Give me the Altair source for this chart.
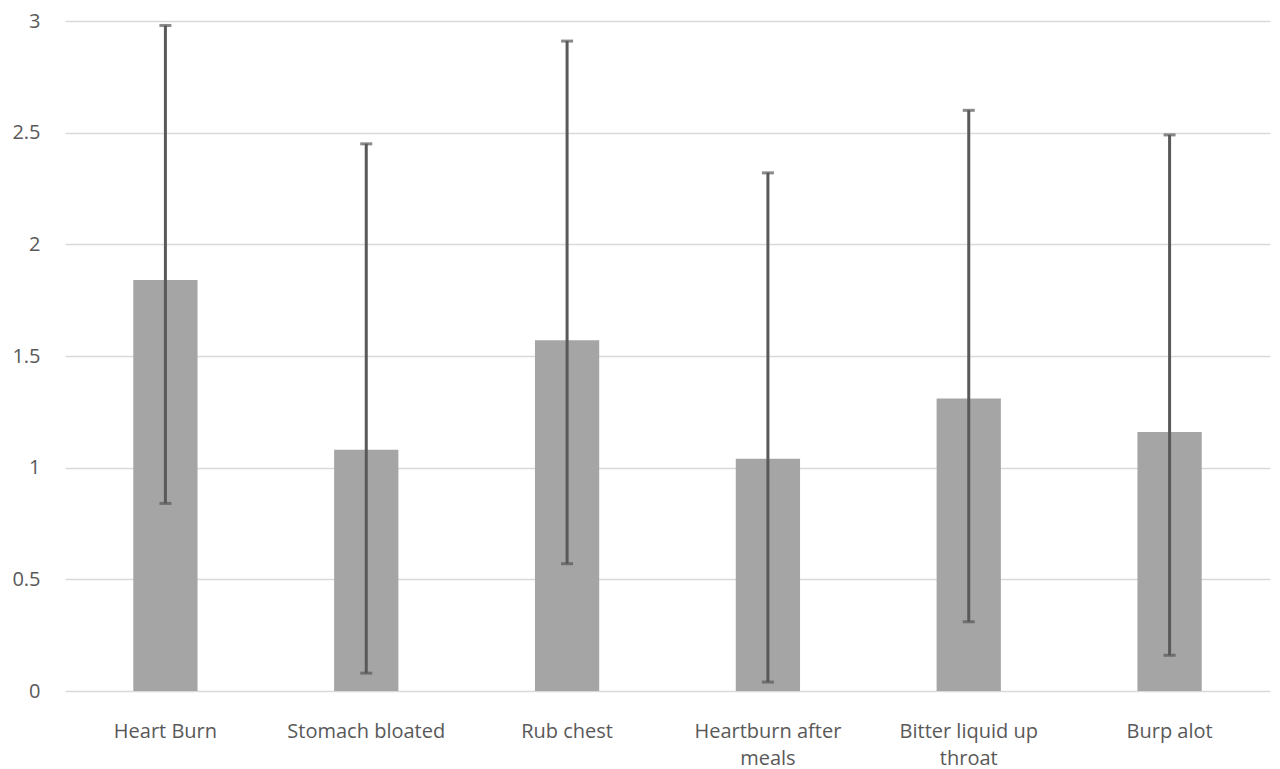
import altair as alt
import pandas as pd

categories = ["Heart Burn", "Stomach bloated", "Rub chest",
              "Heartburn after meals", "Bitter liquid up throat", "Burp alot"]
means = [1.84, 1.08, 1.57, 1.04, 1.31, 1.16]
err_low = [0.84, 0.08, 0.57, 0.04, 0.31, 0.16]
err_high = [2.98, 2.45, 2.91, 2.32, 2.60, 2.49]

df = pd.DataFrame({"cat": categories, "mean": means, "lo": err_low, "hi": err_high})

FONT = "Open Sans"
TXT = "#595959"
FS = 20

label_expr = ("datum.label == 'Heartburn after meals' ? ['Heartburn after', 'meals'] : "
              "datum.label == 'Bitter liquid up throat' ? ['Bitter liquid up', 'throat'] : datum.label")

x = alt.X("cat:N", sort=categories, title=None,
          scale=alt.Scale(paddingInner=0.68, paddingOuter=0.34),
          axis=alt.Axis(labelAngle=0, labelExpr=label_expr, labelFont=FONT, labelFontSize=FS,
                        labelColor=TXT, labelPadding=30, labelLineHeight=27,
                        ticks=False, domain=False, labelLimit=300))
y = alt.Y("mean:Q", title=None,
          scale=alt.Scale(domain=[0, 3], nice=False),
          axis=alt.Axis(values=[0, 0.5, 1, 1.5, 2, 2.5, 3], format="~g", labelFont=FONT,
                        labelFontSize=FS, labelColor=TXT, labelPadding=25, ticks=False,
                        domain=False, gridColor="#d9d9d9", gridWidth=1.3))

base = alt.Chart(df)
bars = base.mark_bar(color="#a5a5a5").encode(x=x, y=y)
rules = base.mark_rule(color="#595959", strokeWidth=3).encode(
    x=alt.X("cat:N", sort=categories), y="lo:Q", y2="hi:Q")
cap_lo = base.mark_tick(color="#595959", thickness=3, size=12, orient="horizontal").encode(
    x=alt.X("cat:N", sort=categories), y="lo:Q")
cap_hi = base.mark_tick(color="#595959", thickness=3, size=12, orient="horizontal").encode(
    x=alt.X("cat:N", sort=categories), y="hi:Q")

chart = alt.layer(bars, rules, cap_lo, cap_hi).properties(
    width=1205, height=670,
    autosize=alt.AutoSizeParams(type="none"),
    padding={"left": 57, "top": 13, "right": 2, "bottom": 78},
).configure_view(stroke=None)

chart.save("out.html", embed_options={"renderer": "svg", "actions": False})
